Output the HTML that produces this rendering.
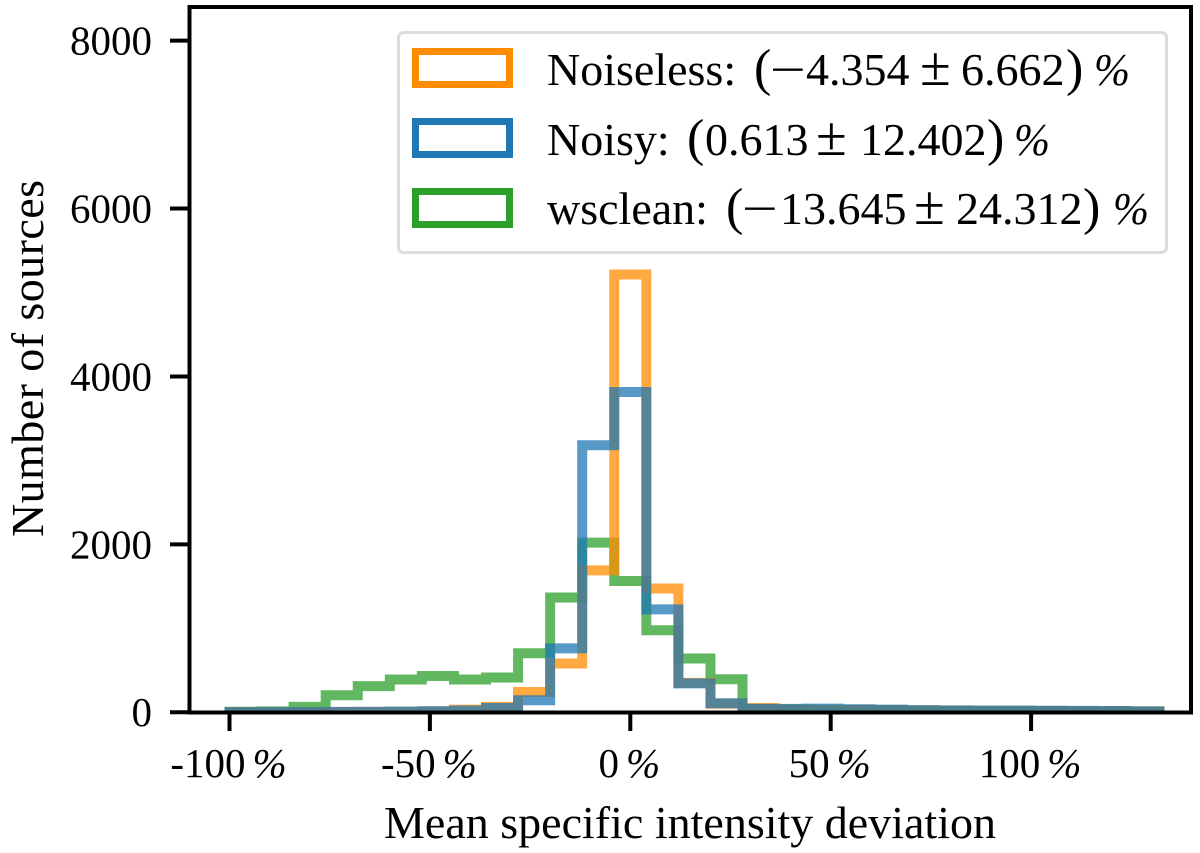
<!DOCTYPE html>
<html>
<head>
<meta charset="utf-8">
<title>Mean specific intensity deviation histogram</title>
<style>
html,body{margin:0;padding:0;background:#fff;width:1200px;height:853px;overflow:hidden}
svg{display:block}
text{font-family:"Liberation Serif",serif;fill:#000}
.it{font-style:italic}
</style>
</head>
<body>
<svg id="chart" width="1200" height="853" viewBox="0 0 1200 853" xmlns="http://www.w3.org/2000/svg">
<defs><clipPath id="plot-clip"><rect x="189" y="7" width="1002" height="705"/></clipPath></defs>
<g id="series" clip-path="url(#plot-clip)"></g>
<g id="axes"></g>
<text x="384" y="838" font-size="46" textLength="612" lengthAdjust="spacing">Mean specific intensity deviation</text>
<text transform="translate(43,537) rotate(-90)" font-size="46" textLength="357" lengthAdjust="spacing">Number of sources</text>
<g>
<rect x="398.5" y="32.5" width="768" height="220" rx="5" fill="#fff" fill-opacity="0.85" stroke="#dcdcdc" stroke-width="3"/>
<rect x="415.5" y="51.5" width="94" height="33" fill="none" stroke="#ff8c00" stroke-width="7"/>
<rect x="415.5" y="121.5" width="94" height="33" fill="none" stroke="#1f77b4" stroke-width="7"/>
<rect x="415.5" y="191.5" width="94" height="33" fill="none" stroke="#2ca02c" stroke-width="7"/>
<g font-size="46">
<text x="547" y="85">Noiseless:</text>
<text x="754" y="85" font-size="52">(</text>
<text x="770" y="85" textLength="36" lengthAdjust="spacingAndGlyphs">−</text>
<text x="806" y="85">4.354</text>
<text x="920" y="85" font-size="56">±</text>
<text x="961" y="85">6.662</text>
<text x="1066" y="85" font-size="52">)</text>
<text class="it" x="1094" y="85" textLength="36" lengthAdjust="spacingAndGlyphs">%</text>
</g>
<g font-size="46">
<text x="547" y="155">Noisy:</text>
<text x="687" y="155" font-size="52">(</text>
<text x="705" y="155">0.613</text>
<text x="816" y="155" font-size="56">±</text>
<text x="860" y="155">12.402</text>
<text x="987" y="155" font-size="52">)</text>
<text class="it" x="1014" y="155" textLength="36" lengthAdjust="spacingAndGlyphs">%</text>
</g>
<g font-size="46">
<text x="547" y="224">wsclean:</text>
<text x="726" y="224" font-size="52">(</text>
<text x="742" y="224" textLength="36" lengthAdjust="spacingAndGlyphs">−</text>
<text x="780" y="224">13.645</text>
<text x="914" y="224" font-size="56">±</text>
<text x="956" y="224">24.312</text>
<text x="1083" y="224" font-size="52">)</text>
<text class="it" x="1113" y="224" textLength="36" lengthAdjust="spacingAndGlyphs">%</text>
</g>
</g>
</svg>
<script>
const binEdges = [-100,-92,-84,-76,-68,-60,-52,-44,-36,-28,-20,-12,-4,4,12,20,28,36,44,52,60,68,76,84,92,100,108,116,124,132];
const noiselessCounts = [1,1,2,3,4,6,10,30,63,240,580,1690,5214,1473,350,100,50,35,30,28,25,22,20,18,16,15,13,12,10];
const noisyCounts = [1,2,3,4,5,7,12,20,50,143,760,3180,3815,1225,343,107,40,40,42,35,30,25,22,20,20,18,16,14,10];
const wscleanCounts = [5,10,63,202,310,390,432,390,413,703,1367,2020,1563,976,640,393,35,30,25,22,20,18,16,15,14,13,12,10,8];
const xTickValues = [-100,-50,0,50,100];
const xTickNames = ['-100','-50','0','50','100'];
const yTickValues = [0,2000,4000,6000,8000];

function xScale(v){ return 630.3 + 4.008 * v; }
function yScale(v){ return 712.2 - 0.08394 * v; }

const NS = 'http://www.w3.org/2000/svg';
const seriesGroup = document.getElementById('series');
const axesGroup = document.getElementById('axes');

function stepPath(edges, counts){
  let d = 'M' + xScale(edges[0]) + ' ' + yScale(0);
  counts.forEach(function(c, i){
    d += ' L' + xScale(edges[i]) + ' ' + yScale(c);
    d += ' L' + xScale(edges[i + 1]) + ' ' + yScale(c);
  });
  d += ' L' + xScale(edges[edges.length - 1]) + ' ' + yScale(0);
  return d;
}

function drawSeries(counts, color, name){
  const p = document.createElementNS(NS, 'path');
  p.setAttribute('d', stepPath(binEdges, counts));
  p.setAttribute('fill', 'none');
  p.setAttribute('stroke', color);
  p.setAttribute('stroke-width', '10');
  p.setAttribute('stroke-opacity', '0.75');
  p.setAttribute('stroke-linejoin', 'miter');
  
  
  seriesGroup.appendChild(p);
}
drawSeries(wscleanCounts, '#2ca02c', 'series-wsclean');
drawSeries(noiselessCounts, '#ff8c00', 'series-noiseless');
drawSeries(noisyCounts, '#1f77b4', 'series-noisy');

xTickValues.forEach(function(v, i){
  const x = xScale(v);
  const t = document.createElementNS(NS, 'line');
  t.setAttribute('x1', x); t.setAttribute('x2', x);
  t.setAttribute('y1', 712); t.setAttribute('y2', 731);
  t.setAttribute('stroke', '#000'); t.setAttribute('stroke-width', '4');
  
  
  axesGroup.appendChild(t);
  const label = document.createElementNS(NS, 'text');
  label.setAttribute('x', x - 1);
  label.setAttribute('y', 777);
  label.setAttribute('font-size', '41');
  label.setAttribute('text-anchor', 'middle');
  
  
  const num = document.createElementNS(NS, 'tspan');
  num.textContent = xTickNames[i];
  const pct = document.createElementNS(NS, 'tspan');
  pct.setAttribute('class', 'it');
  pct.setAttribute('dx', '7');
  pct.textContent = '%';
  label.appendChild(num);
  label.appendChild(pct);
  axesGroup.appendChild(label);
});

yTickValues.forEach(function(v){
  const y = yScale(v);
  const t = document.createElementNS(NS, 'line');
  t.setAttribute('x1', 170); t.setAttribute('x2', 189);
  t.setAttribute('y1', y); t.setAttribute('y2', y);
  t.setAttribute('stroke', '#000'); t.setAttribute('stroke-width', '4');
  
  
  axesGroup.appendChild(t);
  const label = document.createElementNS(NS, 'text');
  label.setAttribute('x', 152);
  label.setAttribute('y', y + 14);
  label.setAttribute('font-size', '41');
  label.setAttribute('text-anchor', 'end');
  
  
  label.textContent = String(v);
  axesGroup.appendChild(label);
});

const frame = document.createElementNS(NS, 'rect');
frame.setAttribute('x', 189.5);
frame.setAttribute('y', 7);
frame.setAttribute('width', 1001.5);
frame.setAttribute('height', 705.5);
frame.setAttribute('fill', 'none');
frame.setAttribute('stroke', '#000');
frame.setAttribute('stroke-width', '4');


axesGroup.appendChild(frame);
</script>
</body>
</html>
